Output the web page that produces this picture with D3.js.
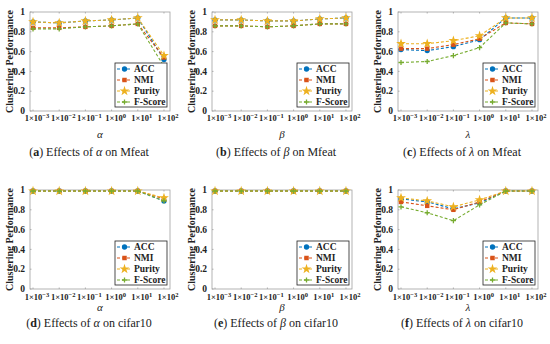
<!DOCTYPE html>
<html>
<head>
<meta charset="utf-8">
<script src="https://cdn.jsdelivr.net/npm/d3@7"></script>
<style>
  body { margin: 0; background: #fff; }
  svg { display: block; }
</style>
</head>
<body>
<svg id="chart" width="550" height="344"></svg>
<script>
// exponents of the parameter grid 1x10^k
const expTicks = ["-3", "-2", "-1", "0", "1", "2"];
const yTicks = [0, 0.2, 0.4, 0.6, 0.8, 1];
const seriesNames = ["ACC", "NMI", "Purity", "F-Score"];
const seriesColors = ["#0072BD", "#D95319", "#EDB120", "#77AC30"];

// rows: ACC, NMI, Purity, F-Score
const mfeatAlpha = [
  [0.90, 0.89, 0.91, 0.92, 0.94, 0.52],
  [0.84, 0.84, 0.85, 0.86, 0.88, 0.54],
  [0.90, 0.89, 0.91, 0.92, 0.94, 0.56],
  [0.83, 0.83, 0.85, 0.86, 0.88, 0.45]
];
const mfeatBeta = [
  [0.92, 0.92, 0.91, 0.91, 0.93, 0.94],
  [0.86, 0.86, 0.85, 0.86, 0.88, 0.88],
  [0.92, 0.92, 0.91, 0.91, 0.93, 0.94],
  [0.86, 0.86, 0.85, 0.86, 0.88, 0.88]
];
const mfeatLambda = [
  [0.62, 0.61, 0.65, 0.72, 0.94, 0.94],
  [0.63, 0.63, 0.67, 0.73, 0.89, 0.88],
  [0.68, 0.68, 0.71, 0.76, 0.94, 0.94],
  [0.49, 0.50, 0.56, 0.64, 0.89, 0.88]
];
const cifarAlpha = [
  [0.99, 0.99, 0.99, 0.99, 0.99, 0.89],
  [0.99, 0.99, 0.99, 0.99, 0.99, 0.91],
  [0.99, 0.99, 0.99, 0.99, 0.99, 0.92],
  [0.99, 0.99, 0.99, 0.99, 0.99, 0.89]
];
const cifarBeta = [
  [0.99, 0.99, 0.99, 0.99, 0.99, 0.99],
  [0.99, 0.99, 0.99, 0.99, 0.99, 0.99],
  [0.99, 0.99, 0.99, 0.99, 0.99, 0.99],
  [0.99, 0.99, 0.99, 0.99, 0.99, 0.99]
];
const cifarLambda = [
  [0.91, 0.88, 0.81, 0.87, 0.99, 0.99],
  [0.88, 0.84, 0.80, 0.88, 0.99, 0.99],
  [0.92, 0.89, 0.83, 0.90, 0.99, 0.99],
  [0.83, 0.77, 0.69, 0.85, 0.99, 0.99]
];

const panels = [
  { data: mfeatAlpha,  sym: "α", letter: "a", ds: "Mfeat",   col: 0, row: 0 },
  { data: mfeatBeta,   sym: "β", letter: "b", ds: "Mfeat",   col: 1, row: 0 },
  { data: mfeatLambda, sym: "λ", letter: "c", ds: "Mfeat",   col: 2, row: 0 },
  { data: cifarAlpha,  sym: "α", letter: "d", ds: "cifar10", col: 0, row: 1 },
  { data: cifarBeta,   sym: "β", letter: "e", ds: "cifar10", col: 1, row: 1 },
  { data: cifarLambda, sym: "λ", letter: "f", ds: "cifar10", col: 2, row: 1 }
];

const colLeft = [30, 212, 398];
const rowTop = [12, 190];
const tickLabelDy = [10, 11];
const symDy = [27, 22];
const captionY = [156, 327];
const captionX = [89, 276, 462];
const boxW = 140, boxH = 99;
const serif = "'Liberation Serif', 'Times New Roman', serif";

const svg = d3.select("#chart");

function marker(g, k, x, y, color) {
  if (k === 3) {
    g.append("path")
      .attr("d", `M${x - 2.6},${y}H${x + 2.6}M${x},${y - 2.6}V${y + 2.6}`)
      .attr("stroke", color).attr("stroke-width", 1.3).attr("fill", "none");
    return;
  }
  const type = [d3.symbolCircle, d3.symbolSquare, d3.symbolStar][k];
  const size = [22, 20, 30][k];
  g.append("path")
    .attr("d", d3.symbol().type(type).size(size)())
    .attr("transform", `translate(${x},${y})`)
    .attr("fill", color);
}

panels.forEach(p => {
  const left = colLeft[p.col], top = rowTop[p.row];
  const g = svg.append("g").attr("transform", `translate(${left},${top})`);

  const x = d3.scaleLinear().domain([0.885, 6.23]).range([0, boxW]);
  const y = d3.scaleLinear().domain([0, 1]).range([boxH, 0]);

  // axes box
  g.append("rect").attr("width", boxW).attr("height", boxH)
    .attr("fill", "#fff").attr("stroke", "#a0a0a0").attr("stroke-width", 0.8);

  // ticks
  yTicks.forEach(t => {
    g.append("line").attr("x1", 0).attr("x2", 1.5).attr("y1", y(t)).attr("y2", y(t))
      .attr("stroke", "#a0a0a0").attr("stroke-width", 0.8);
    g.append("text").attr("x", -5).attr("y", y(t) + 3.2)
      .attr("text-anchor", "end").attr("font-family", serif)
      .attr("font-weight", "bold").attr("font-size", 9.5).attr("fill", "#222")
      .text(d3.format("~g")(t));
  });
  expTicks.forEach((e, i) => {
    const xv = x(i + 1);
    g.append("line").attr("x1", xv).attr("x2", xv).attr("y1", boxH).attr("y2", boxH - 1.5)
      .attr("stroke", "#a0a0a0").attr("stroke-width", 0.8);
    g.append("line").attr("x1", xv).attr("x2", xv).attr("y1", 0).attr("y2", 1.5)
      .attr("stroke", "#a0a0a0").attr("stroke-width", 0.8);
    const t = g.append("text").attr("x", xv + 4).attr("y", boxH + tickLabelDy[p.row])
      .attr("text-anchor", "middle").attr("font-family", serif)
      .attr("font-weight", "bold").attr("font-size", 8.5).attr("fill", "#222");
    t.append("tspan").text("1×10");
    t.append("tspan").attr("dy", -3.5).attr("font-size", 6.5)
      .text(e.replace("-", "−"));
  });

  // y title
  g.append("text")
    .attr("transform", `translate(-17,${boxH / 2}) rotate(-90)`)
    .attr("text-anchor", "middle").attr("font-family", serif)
    .attr("font-weight", "bold").attr("font-size", 10).attr("fill", "#222")
    .text("Clustering Performance");

  // x title
  g.append("text").attr("x", boxW / 2).attr("y", boxH + symDy[p.row])
    .attr("text-anchor", "middle").attr("font-family", serif)
    .attr("font-style", "italic").attr("font-size", 11).attr("fill", "#222")
    .text(p.sym);

  // series
  const line = d3.line().x((d, i) => x(i + 1)).y(d => y(d));
  p.data.forEach((vals, k) => {
    g.append("path").datum(vals)
      .attr("d", line).attr("fill", "none")
      .attr("stroke", seriesColors[k]).attr("stroke-width", 1.1)
      .attr("stroke-dasharray", "3,2");
    vals.forEach((v, i) => marker(g, k, x(i + 1), y(v), seriesColors[k]));
  });

  // legend
  const lw = 52, lh = 44;
  const lg = g.append("g").attr("transform", `translate(${boxW - lw - 3},${boxH - lh - 4})`);
  lg.append("rect").attr("width", lw).attr("height", lh)
    .attr("fill", "#fff").attr("stroke", "#222").attr("stroke-width", 0.8);
  seriesNames.forEach((name, k) => {
    const ly = 6 + k * 11;
    lg.append("line").attr("x1", 2).attr("x2", 17).attr("y1", ly).attr("y2", ly)
      .attr("stroke", seriesColors[k]).attr("stroke-width", 1.1)
      .attr("stroke-dasharray", "3,2");
    marker(lg, k, 9.5, ly, seriesColors[k]);
    lg.append("text").attr("x", 19).attr("y", ly + 3.2)
      .attr("font-family", serif).attr("font-weight", "bold")
      .attr("font-size", 9.5).attr("fill", "#222").text(name);
  });

  // caption
  const cap = svg.append("text").attr("x", captionX[p.col]).attr("y", captionY[p.row])
    .attr("text-anchor", "middle").attr("font-family", serif)
    .attr("font-size", 12).attr("fill", "#222");
  cap.append("tspan").text("(");
  cap.append("tspan").attr("font-weight", "bold").text(p.letter);
  cap.append("tspan").text(") Effects of ");
  cap.append("tspan").attr("font-style", "italic").text(p.sym);
  cap.append("tspan").text(" on " + p.ds);
});
</script>
</body>
</html>
